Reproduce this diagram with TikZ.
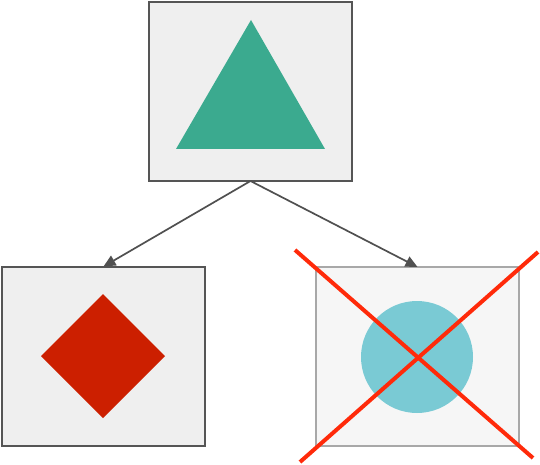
\documentclass[tikz,border=0pt]{standalone}
\usetikzlibrary{arrows.meta}
\definecolor{boxfill}{HTML}{EFEFEF}
\definecolor{boxline}{HTML}{555555}
\definecolor{paleFill}{HTML}{F6F6F6}
\definecolor{paleLine}{HTML}{A8A8A8}
\definecolor{tealc}{HTML}{3BAA8F}
\definecolor{redc}{HTML}{CC1F00}
\definecolor{cyanc}{HTML}{7ACAD4}
\definecolor{crossc}{HTML}{FF2A0A}
\definecolor{arrowc}{HTML}{505050}
\begin{document}
\begin{tikzpicture}[x=1pt,y=-1pt,
  panel/.style={draw=boxline,fill=boxfill,line width=2pt,minimum width=203pt,minimum height=179pt,inner sep=0pt,outer sep=0pt},
  palepanel/.style={draw=paleLine,fill=paleFill,line width=2pt,minimum width=203pt,minimum height=179pt,inner sep=0pt,outer sep=0pt},
  link/.style={draw=arrowc,line width=1.7pt,-{Triangle[length=12pt,width=11pt]}},
  crossline/.style={draw=crossc,line width=4pt}]
\useasboundingbox (0,0) rectangle (540,465);
\node[panel] (top) at (250.5,91.5) {};
\node[panel] (left) at (103.5,356) {};
\node[palepanel] (right) at (417.5,356.5) {};
\fill[tealc] (251,20) -- (325,149) -- (176,149) -- cycle;
\fill[redc] (103,294) -- (165,356) -- (103,418) -- (41,356) -- cycle;
\fill[cyanc] (417,357) circle (56);
\draw[link] (top.south) -- (left.north);
\draw[link] (top.south) -- (right.north);
\draw[crossline] (295,250) -- (533,458);
\draw[crossline] (538,252) -- (300,462);
\end{tikzpicture}
\end{document}
